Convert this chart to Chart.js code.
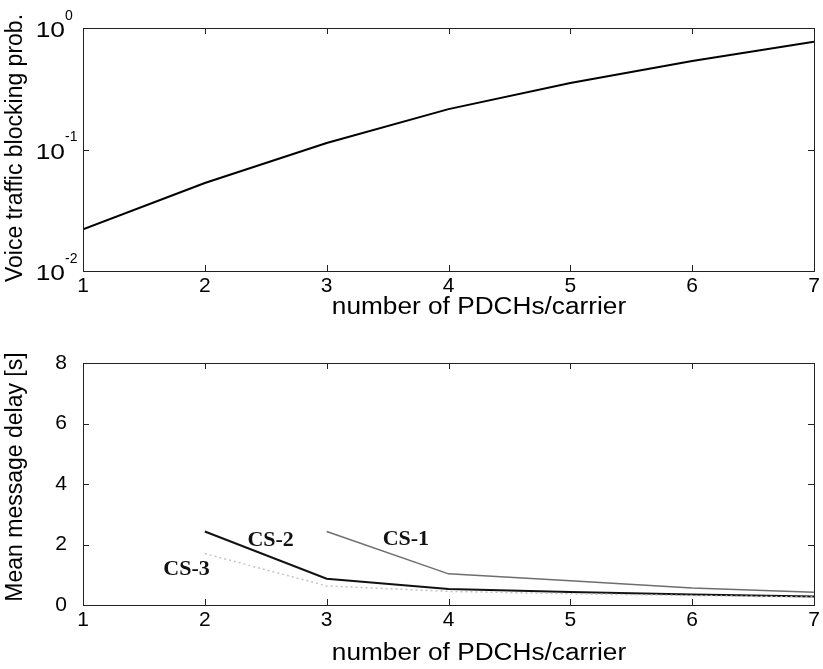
<!DOCTYPE html>
<html>
<head>
<meta charset="utf-8">
<script src="https://cdn.jsdelivr.net/npm/chart.js@4.4.0/dist/chart.umd.min.js"></script>
<style>
  body { margin: 0; background: #fff; }
  .box { position: absolute; left: 0; width: 823px; }
</style>
</head>
<body>
<div class="box" style="top:0;height:335px"><canvas id="blockChart"></canvas></div>
<div class="box" style="top:335px;height:334px"><canvas id="delayChart"></canvas></div>
<script>
const pdch = [1, 2, 3, 4, 5, 6, 7];
const blocking = [0.022, 0.053, 0.113, 0.215, 0.352, 0.535, 0.77];

const cs1X = [3, 4, 5, 6, 7];
const cs1 = [2.43, 1.03, 0.8, 0.56, 0.42];
const cs2X = [2, 3, 4, 5, 6, 7];
const cs2 = [2.43, 0.87, 0.53, 0.43, 0.35, 0.28];
const cs3X = [2, 3, 4, 5, 6, 7];
const cs3 = [1.7, 0.63, 0.45, 0.37, 0.31, 0.26];

const logTicks = [0.01, 0.1, 1];
const logExp = ["-2", "-1", "0"];

const labelFont = "Liberation Sans, Arial, sans-serif";

function pts(xs, ys) {
  return xs.map((x, i) => ({ x: x, y: ys[i] }));
}

// text a bit wider than normal, like the scanned figure
function wideText(c, txt, x, y, sx) {
  c.save();
  c.translate(x, y);
  c.scale(sx, 1);
  c.fillText(txt, 0, 0);
  c.restore();
}

// matlab style box + inward ticks + labels
const frame = {
  id: "frame",
  afterDraw(chart, args, opts) {
    const c = chart.ctx;
    const a = chart.chartArea;
    const xs = chart.scales.x;
    const ys = chart.scales.y;
    c.save();
    c.strokeStyle = "#222";
    c.lineWidth = 1;
    c.strokeRect(a.left + 0.5, a.top + 0.5, a.right - a.left, a.bottom - a.top);
    c.beginPath();
    for (const v of opts.xTicks) {
      const px = Math.round(xs.getPixelForValue(v)) + 0.5;
      c.moveTo(px, a.bottom); c.lineTo(px, a.bottom - 6);
      c.moveTo(px, a.top); c.lineTo(px, a.top + 6);
    }
    for (const v of opts.yTicks) {
      const py = Math.round(ys.getPixelForValue(v)) + 0.5;
      c.moveTo(a.left, py); c.lineTo(a.left + 6, py);
      c.moveTo(a.right, py); c.lineTo(a.right - 6, py);
    }
    c.stroke();

    c.fillStyle = "#000";
    c.textBaseline = "middle";
    c.textAlign = "center";
    c.font = "21px " + labelFont;
    for (const t of xs.ticks) {
      c.fillText(String(t.value), xs.getPixelForValue(t.value), opts.xLabelY);
    }

    if (opts.powers) {
      logTicks.forEach((v, i) => {
        const py = ys.getPixelForValue(v);
        c.font = "22px " + labelFont;
        c.textAlign = "right";
        wideText(c, "10", 65, py + 3, 1.2);
        c.font = "14px " + labelFont;
        c.textAlign = "left";
        c.fillText(logExp[i], 65, py - 12);
      });
    }

    // axis titles
    c.font = "23px " + labelFont;
    c.textAlign = "center";
    wideText(c, opts.xTitle, 479, opts.xTitleY, 1.14);
    c.save();
    c.translate(16, opts.yTitleY);
    c.rotate(-Math.PI / 2);
    c.fillText(opts.yTitle, 0, 0);
    c.restore();

    if (opts.notes) {
      c.fillStyle = "#111";
      c.font = "bold 22px 'Liberation Serif', 'Times New Roman', serif";
      for (const n of opts.notes) {
        c.fillText(n[0], xs.getPixelForValue(n[1]), ys.getPixelForValue(n[2]));
      }
    }
    c.restore();
  }
};

function xAxis() {
  return {
    type: "linear",
    min: 1,
    max: 7,
    grid: { display: false },
    border: { display: false },
    ticks: { stepSize: 1, display: false },
    afterFit: (s) => { s.height = 64; }
  };
}

new Chart(document.getElementById("blockChart"), {
  type: "line",
  data: {
    datasets: [{
      data: pts(pdch, blocking),
      borderColor: "#000",
      borderWidth: 2,
      pointRadius: 0,
      tension: 0
    }]
  },
  options: {
    responsive: true,
    maintainAspectRatio: false,
    animation: false,
    layout: { padding: { top: 28, right: 9, left: 0, bottom: 0 } },
    plugins: {
      legend: { display: false },
      tooltip: { enabled: false },
      frame: {
        xTicks: [2, 3, 4, 5, 6], yTicks: [0.1], powers: true,
        xLabelY: 286,
        xTitle: "number of PDCHs/carrier", xTitleY: 308,
        yTitle: "Voice traffic blocking prob.", yTitleY: 148
      }
    },
    scales: {
      x: xAxis(),
      y: {
        type: "logarithmic",
        min: 0.01,
        max: 1,
        grid: { display: false },
        border: { display: false },
        ticks: { display: false },
        afterFit: (s) => { s.width = 83; }
      }
    }
  },
  plugins: [frame]
});

new Chart(document.getElementById("delayChart"), {
  type: "line",
  data: {
    datasets: [
      { label: "CS-3", data: pts(cs3X, cs3), borderColor: "#c4c4c4", borderWidth: 1.5, borderDash: [2, 3], pointRadius: 0, tension: 0 },
      { label: "CS-1", data: pts(cs1X, cs1), borderColor: "#6e6e6e", borderWidth: 1.5, pointRadius: 0, tension: 0 },
      { label: "CS-2", data: pts(cs2X, cs2), borderColor: "#111", borderWidth: 2, pointRadius: 0, tension: 0 }
    ]
  },
  options: {
    responsive: true,
    maintainAspectRatio: false,
    animation: false,
    layout: { padding: { top: 28, right: 9, left: 0, bottom: 0 } },
    plugins: {
      legend: { display: false },
      tooltip: { enabled: false },
      frame: {
        xTicks: [2, 3, 4, 5, 6],
        yTicks: [2, 4, 6],
        xLabelY: 285,
        xTitle: "number of PDCHs/carrier", xTitleY: 319,
        yTitle: "Mean message delay [s]", yTitleY: 142,
        notes: [["CS-2", 2.54, 2.14], ["CS-1", 3.65, 2.17], ["CS-3", 1.85, 1.18]]
      }
    },
    scales: {
      x: xAxis(),
      y: {
        type: "linear",
        min: 0,
        max: 8,
        grid: { display: false },
        border: { display: false },
        ticks: { stepSize: 2, color: "#000", padding: 8, font: { size: 21, family: labelFont } },
        afterFit: (s) => { s.width = 83; }
      }
    }
  },
  plugins: [frame]
});
</script>
</body>
</html>
